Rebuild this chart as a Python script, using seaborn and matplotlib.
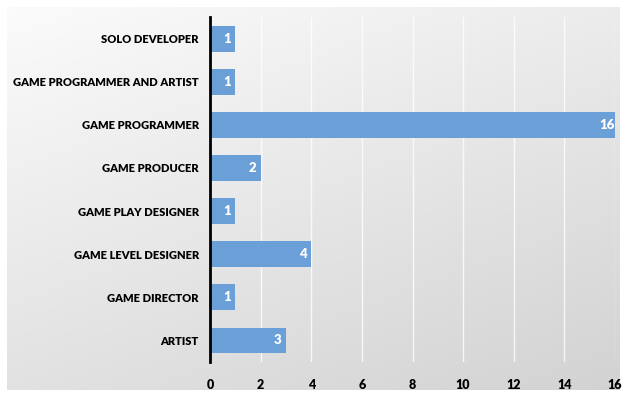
import numpy as np
import pandas as pd
import matplotlib
matplotlib.use("Agg")
import matplotlib.pyplot as plt
import seaborn as sns

roles = ["SOLO DEVELOPER", "GAME PROGRAMMER AND ARTIST", "GAME PROGRAMMER",
         "GAME PRODUCER", "GAME PLAY DESIGNER", "GAME LEVEL DESIGNER",
         "GAME DIRECTOR", "ARTIST"]
counts = [1, 1, 16, 2, 1, 4, 1, 3]
xticks = [0, 2, 4, 6, 8, 10, 12, 14, 16]

df = pd.DataFrame({"role": roles, "count": counts})

sns.set_theme(style="white")
plt.rcParams['font.family'] = ['Lato', 'DejaVu Sans']

W, H = 622, 395
fig = plt.figure(figsize=(W / 100, H / 100), dpi=100)
fig.patch.set_facecolor("white")

# gradient background panel
bg = fig.add_axes([7 / W, 5 / H, 613 / W, 383 / H], zorder=0)
yy, xx = np.mgrid[0:1:200j, 0:1:300j]
g = 0.985 - 0.06 * xx - 0.10 * yy
bg.imshow(np.dstack([g, g, g]), aspect="auto", extent=[0, 1, 0, 1], origin="upper")
bg.set_axis_off()

ax = fig.add_axes([210 / W, 1 - 362 / H, (615 - 210) / W, (362 - 17) / H], zorder=1)
ax.patch.set_alpha(0)

sns.barplot(data=df, x="count", y="role", orient="h", color="#6a9fd8",
            saturation=1, width=0.6, ax=ax, zorder=3, edgecolor="none", linewidth=0)

ax.set_xlim(0, 16)
ax.set_ylim(7.5, -0.5)
ax.set_xticks(xticks)
ax.set_xticklabels([str(t) for t in xticks], fontsize=9, fontweight="heavy", color="black")
ax.tick_params(axis="x", length=0, pad=12)
ax.tick_params(axis="y", length=0, pad=8)
for lab in ax.get_yticklabels():
    lab.set_fontsize(8.0)
    lab.set_fontweight("heavy")
    lab.set_color("black")
ax.set_xlabel("")
ax.set_ylabel("")
ax.grid(axis="x", color="white", linewidth=1.0, alpha=0.8, zorder=0)
for s in ["top", "right", "bottom"]:
    ax.spines[s].set_visible(False)
ax.spines["left"].set_color("black")
ax.spines["left"].set_linewidth(2)
ax.spines["left"].set_zorder(5)

for i, v in enumerate(counts):
    ax.text(v - 0.33, i, str(v), color="white", fontsize=9.5, fontweight="heavy",
            ha="center", va="center", zorder=4)

fig.savefig("out.png", dpi=100)
